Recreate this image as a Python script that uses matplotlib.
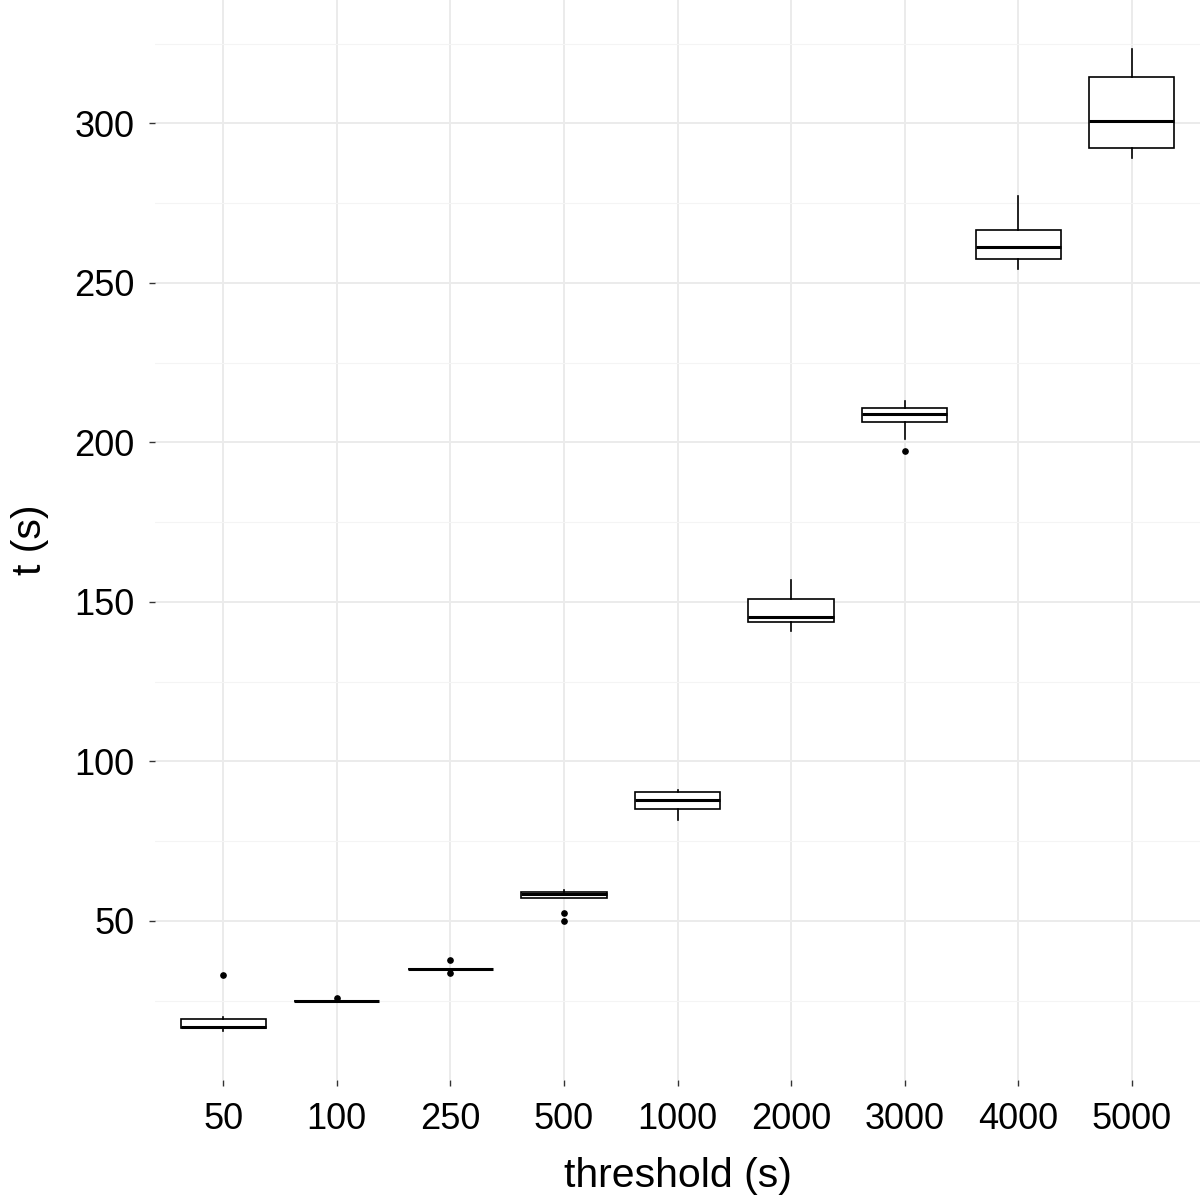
import numpy as np
import matplotlib.pyplot as plt
from matplotlib.ticker import MultipleLocator

plt.rcParams['font.family'] = ['Liberation Sans', 'DejaVu Sans']

# thresholds (categories) and box stats
labels = ['50', '100', '250', '500', '1000', '2000', '3000', '4000', '5000']
whislo = [15.5, 24.9, 34.9, 57.3, 81.5, 140.9, 201.2, 254.5, 289.3]
q1 = [16.5, 24.9, 34.9, 57.3, 85.1, 143.8, 206.5, 257.4, 292.4]
med = [16.8, 24.9, 34.9, 58.5, 88.0, 145.3, 208.8, 261.2, 300.9]
q3 = [19.3, 24.9, 34.9, 59.0, 90.3, 150.9, 210.8, 266.5, 314.5]
whishi = [19.9, 24.9, 34.9, 59.6, 91.0, 156.8, 213.0, 277.4, 323.3]
fliers = [[33.1], [25.7], [37.7, 33.5], [52.6, 49.8], [], [], [197.3], [], []]

stats = []
for i in range(len(labels)):
    stats.append(dict(med=med[i], q1=q1[i], q3=q3[i],
                      whislo=whislo[i], whishi=whishi[i], fliers=fliers[i]))

fig = plt.figure(figsize=(12, 11.99), dpi=100)
ax = fig.add_axes([155/1200, 119/1199, 1045/1200, 1080/1199])

pos = np.arange(len(labels))
ax.bxp(stats, positions=pos, widths=0.75, patch_artist=True, showcaps=False,
       boxprops=dict(facecolor='white', edgecolor='black', linewidth=1.2),
       whiskerprops=dict(color='black', linewidth=1.2),
       medianprops=dict(color='black', linewidth=2.2),
       flierprops=dict(marker='o', markerfacecolor='black', markeredgecolor='black',
                       markersize=3.8, linestyle='none'),
       zorder=3)

ax.set_xlim(-0.6, len(labels) - 0.4)
ax.set_ylim(0.1, 338.7)
ax.set_xticks(pos)
ax.set_xticklabels(labels)
ax.yaxis.set_major_locator(MultipleLocator(50))
ax.yaxis.set_minor_locator(MultipleLocator(25))
ax.set_yticks([50, 100, 150, 200, 250, 300])

ax.grid(True, which='major', color='#EBEBEB', linewidth=1.4, zorder=0)
ax.grid(True, which='minor', axis='y', color='#F4F4F4', linewidth=0.8, zorder=0)
ax.set_axisbelow(True)
for s in ax.spines.values():
    s.set_visible(False)

ax.tick_params(axis='both', which='major', length=4.5, width=1, color='#333333',
               labelsize=26, labelcolor='black')
ax.tick_params(axis='x', pad=11)
ax.tick_params(axis='y', pad=10)
ax.tick_params(which='minor', length=0)

ax.set_xlabel('threshold (s)', fontsize=29.5, labelpad=15)
ax.set_ylabel('t (s)', fontsize=29.5, labelpad=18)

fig.savefig('out.png', dpi=100)
